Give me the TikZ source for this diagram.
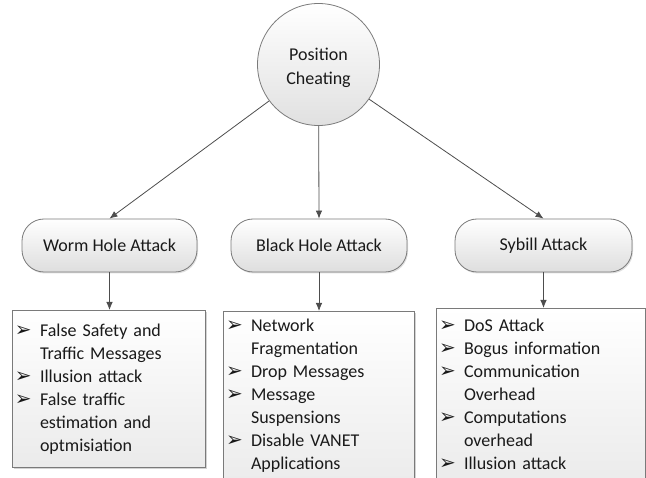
\documentclass[tikz,border=0pt]{standalone}
\usepackage{fontspec}
\setmainfont{Carlito}
\newfontfamily\dingfont{DejaVu Sans}
\usepackage{xcolor}
\usetikzlibrary{arrows.meta,shadows}

\definecolor{linegray}{HTML}{4D4D4D}
\definecolor{framegray}{HTML}{7A7A7A}
\definecolor{inkblack}{HTML}{1A1A1A}

% bulleted list used inside the lower boxes
\newcommand\threatmark{\makebox[14pt][l]{\dingfont\fontsize{20}{20}\selectfont ➢}}
\newenvironment{threats}{%
  \begin{list}{\threatmark}{%
    \setlength\leftmargin{25pt}\setlength\labelwidth{14pt}%
    \setlength\labelsep{11pt}\setlength\itemsep{0pt}%
    \setlength\topsep{0pt}\setlength\partopsep{0pt}%
    \setlength\parsep{0pt}\setlength\itemindent{0pt}}}%
  {\end{list}}

\begin{document}
\begin{tikzpicture}[x=1pt,y=-1pt]
			\tikzstyle{topic} = [circle, draw=framegray, line width=0.8pt, top color=white, bottom color=black!12, minimum size=122pt, align=center, text=inkblack, font=\fontsize{18}{23}\selectfont]
			\tikzstyle{attack} = [draw=framegray, line width=0.8pt, rounded corners=22pt, top color=white, bottom color=black!13, minimum height=53pt, text=inkblack, font=\fontsize{18}{23}\selectfont, drop shadow={opacity=0.25, shadow xshift=1pt, shadow yshift=-1.5pt}]
			\tikzstyle{effects} = [draw=framegray, line width=0.8pt, anchor=north, inner xsep=3pt, inner ysep=0pt, top color=white, bottom color=black!8, text=inkblack, font=\fontsize{18}{23}\selectfont, drop shadow={opacity=0.35, shadow xshift=1.5pt, shadow yshift=-1.5pt}]
			\tikzset{link/.style = {draw=linegray, line width=0.8pt, -{Latex[length=8pt,width=6.5pt]}}}

			\useasboundingbox (0,0) rectangle (646,478);
			\clip (0,0) rectangle (646,478);

			\node[topic](cheat) at (318.5,64.5) {\mbox{}\\[-4pt]Position\\[1pt]Cheating};

			\node[attack, minimum width=175pt](worm) at (109.5,245.5) {Worm Hole Attack};
			\node[attack, minimum width=176pt](black) at (319,245.5) {Black Hole Attack};
			\node[attack, minimum width=177pt](sybill) at (543.5,245.5) {Sybill Attack};
			\draw[link](cheat) to (worm.north);
			\draw[link](cheat) to (black.north);
			\draw[link](cheat) to (sybill.north);

			\node[effects, text width=187pt, minimum height=157pt](wormlist) at (108.5,310) {%
				\begin{threats}
				\item False Safety and Traffic Messages
				\item Illusion attack
				\item False traffic estimation and optmisiation
				\end{threats}\par\vspace*{10pt}};
			\node[effects, text width=185pt](blacklist) at (318.5,311) {%
				\vspace*{-3pt}
				\begin{threats}
				\item Network Fragmentation
				\item Drop Messages
				\item Message Suspensions
				\item Disable VANET Applications
				\end{threats}\par\vspace*{20pt}};
			\node[effects, text width=203pt, minimum height=168pt](sybilllist) at (540.5,308) {%
				\begin{threats}
				\item DoS Attack
				\item Bogus information
				\item Communication Overhead
				\item Computations\newline overhead
				\item Illusion attack
				\end{threats}\par\vspace*{16pt}};
			\draw[link](worm.south) to (worm.south |- wormlist.north);
			\draw[link](black.south) to (black.south |- blacklist.north);
			\draw[link](sybill.south) to (sybill.south |- sybilllist.north);
\end{tikzpicture}
\end{document}
